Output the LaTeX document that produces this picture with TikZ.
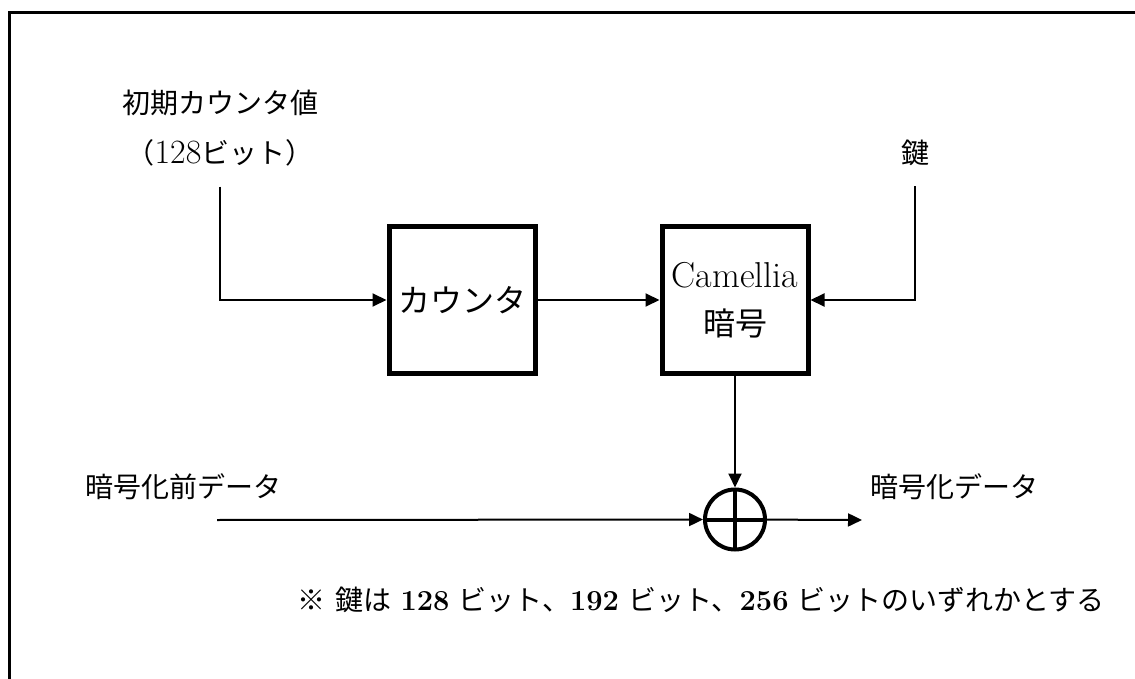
\documentclass[tikz,border=0pt]{standalone}
\usepackage{fontspec}
\newfontfamily\jp{Noto Sans CJK JP}
\usetikzlibrary{arrows.meta,positioning}
\newcommand{\dig}[1]{{\fontsize{17}{25}\selectfont #1}}
\newcommand{\bdig}[1]{{\fontsize{14.5}{25}\selectfont\bfseries #1}}
\tikzset{
  blk/.style={draw, line width=2.5pt, minimum width=73pt, minimum height=73pt, align=center, inner sep=0pt, font=\fontsize{16}{24}\selectfont},
  lab/.style={font=\fontsize{14}{25}\selectfont, align=center, inner sep=0pt},
  arr/.style={-{Triangle[length=7pt, width=6.5pt]}, line width=1pt},
  xorc/.style={draw, circle, line width=2pt, minimum size=30pt, inner sep=0pt,
    path picture={\draw[line width=2pt] (path picture bounding box.north) -- (path picture bounding box.south)
      (path picture bounding box.west) -- (path picture bounding box.east);}},
}

\begin{document}
\begin{tikzpicture}[x=0.5pt, y=-0.5pt, node distance=61pt]
\useasboundingbox (0,0) rectangle (1135,679);
% outer frame (only top and left edges are inside the picture)
\draw[line width=1.5pt] (9,690) -- (9,13) -- (1145,13);

\node[blk] (cnt) at (462,300) {\jp カウンタ};
\node[blk, right=of cnt] (cam) {{\fontsize{18}{24}\selectfont Camellia}\\{\jp 暗号}};
\node[xorc, below=56pt of cam] (xor) {};

\node[lab] (iv) at (220,128) {{\jp 初期カウンタ値}\\{\jp （}\dig{128}{\jp ビット）}};
\node[lab] (key) at (915,153) {\jp 鍵};
\node[lab, anchor=west] (pt) at (85,487) {\jp 暗号化前データ};
\node[lab, anchor=west] (ct) at (870,487) {\jp 暗号化データ};
\node[lab, anchor=west] (note) at (297,600) {{\jp ※}\hspace{5pt}{\jp 鍵は} \bdig{128} {\jp ビット、}\bdig{192} {\jp ビット、}\bdig{256} {\jp ビットのいずれかとする}};

\coordinate (pin) at (217,520);
\coordinate (pout) at (862,520);

\draw[arr, shorten <=10pt] (iv.south) |- (cnt.west);
\draw[arr] (cnt) -- (cam);
\draw[arr, shorten <=10pt] (key.south) |- (cam.east);
\draw[arr] (cam) -- (xor);
\draw[arr] (pin) -- (xor);
\draw[arr] (xor) -- (pout);
\end{tikzpicture}
\end{document}
